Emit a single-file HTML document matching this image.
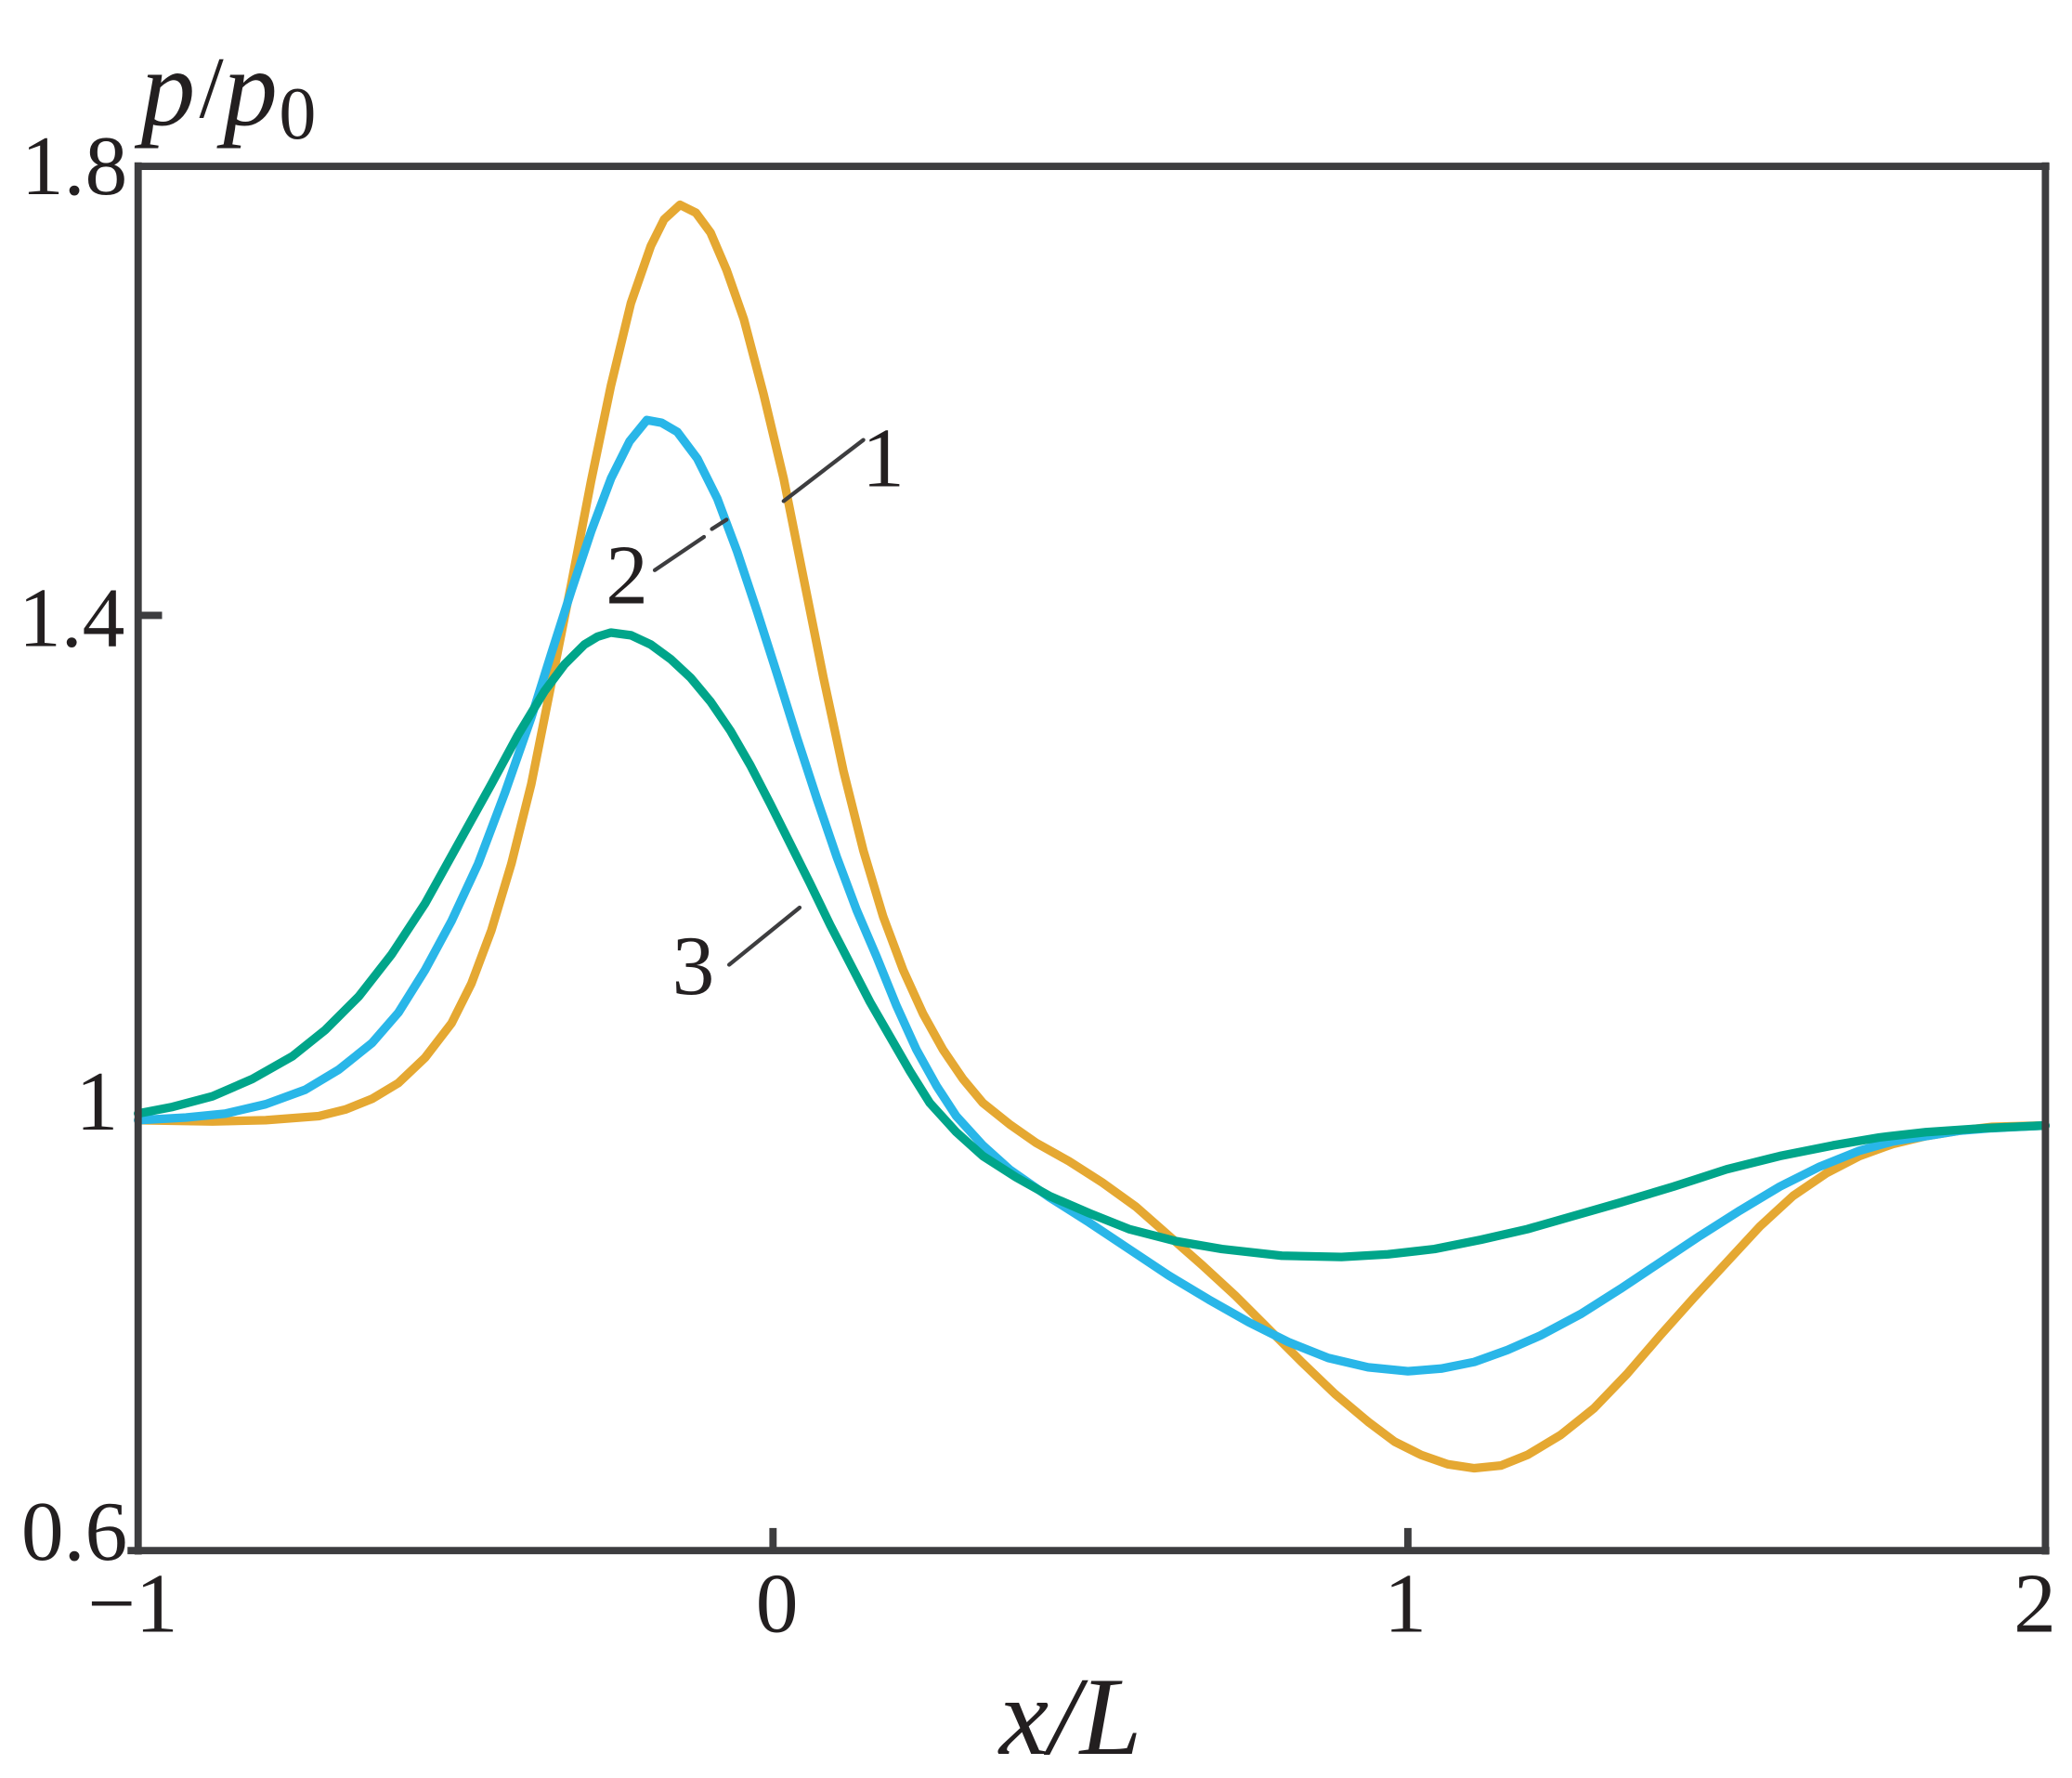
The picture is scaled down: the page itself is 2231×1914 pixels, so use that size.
<!DOCTYPE html>
<html><head><meta charset="utf-8"><style>
html,body{margin:0;padding:0;background:#fff;}
svg{display:block;}
text{font-family:"Liberation Serif",serif;fill:#231f20;}
</style></head><body>
<svg width="2231" height="1914" viewBox="0 0 1560 1338" xmlns="http://www.w3.org/2000/svg">
<rect width="1560" height="1338" fill="#fff"/>
<g fill="none" stroke-linejoin="round" stroke-linecap="round" stroke-width="6.5">
<polyline stroke="#E5A832" points="104,843 160,844 200,843 240,840 260,835 280,827 300,815 320,796 340,770 355,740 370,700 385,650 400,590 415,515 430,440 445,362 460,290 475,228 490,185 500,165 512,154 524,160 535,175 547,203 560,240 575,297 590,360 605,435 620,510 635,580 650,640 665,690 680,730 695,763 710,790 725,812 740,830 760,846 780,860 805,874 830,890 855,908 880,930 905,952 930,975 955,1000 980,1025 1005,1049 1030,1070 1050,1085 1070,1095 1090,1102 1110,1105 1130,1103 1150,1095 1175,1080 1200,1060 1225,1034 1250,1005 1275,977 1300,950 1325,923 1350,900 1375,883 1400,870 1425,861 1450,855 1475,851 1500,848 1540,847"/>
<polyline stroke="#29B6E8" points="104,843 140,841 170,838 200,831 230,820 255,805 280,785 300,762 320,730 340,693 360,650 380,597 400,540 415,492 430,445 445,400 460,360 474,332 487,316 498,318 510,325 525,345 540,375 555,415 570,460 585,507 600,555 615,601 630,645 645,685 660,720 675,757 690,790 705,817 720,840 740,862 760,880 790,901 820,920 850,940 880,960 910,978 940,995 970,1010 1000,1022 1030,1029 1060,1032 1085,1030 1110,1025 1135,1016 1160,1005 1190,989 1220,970 1250,950 1280,930 1310,911 1340,893 1370,878 1400,866 1425,859 1450,855 1475,851 1500,849 1540,847"/>
<polyline stroke="#00A58A" points="104,838 130,833 160,825 190,812 220,795 245,775 270,750 295,718 320,680 345,635 370,590 390,553 410,520 425,500 440,485 450,479 460,476 475,478 490,485 505,496 520,510 535,528 550,550 565,576 580,605 595,635 610,665 625,696 640,725 655,754 670,780 685,806 700,830 720,852 740,870 765,886 790,900 820,913 850,925 885,934 920,940 965,945 1010,946 1045,944 1080,940 1115,933 1150,925 1185,915 1220,905 1260,893 1300,880 1340,870 1380,862 1415,856 1450,852 1495,849 1540,847"/>
</g>
<g stroke="#3d3d3f" stroke-width="3" stroke-linecap="round">
<line x1="590" y1="377" x2="650" y2="331"/>
<line x1="493" y1="429" x2="530" y2="404"/><line x1="536" y1="398" x2="547" y2="391"/>
<line x1="549" y1="726" x2="602" y2="683"/>
</g>
<g stroke="#3d3d3f" stroke-width="5.5" fill="none">
<line x1="104" y1="122" x2="104" y2="1170"/>
<line x1="104" y1="125" x2="1543" y2="125"/>
<line x1="1540" y1="122" x2="1540" y2="1170"/>
<line x1="96" y1="1167" x2="1543" y2="1167"/>
<line x1="104" y1="463" x2="122" y2="463"/>
<line x1="582" y1="1167" x2="582" y2="1150"/>
<line x1="1060" y1="1167" x2="1060" y2="1150"/>
</g>
<g font-size="64">
<text x="96" y="146" text-anchor="end">1.8</text>
<text x="94" y="486" text-anchor="end">1.4</text>
<text x="89" y="850" text-anchor="end">1</text>
<text x="96" y="1174" text-anchor="end">0.6</text>
<text x="100" y="1228" text-anchor="middle">−1</text>
<text x="585" y="1228" text-anchor="middle">0</text>
<text x="1058" y="1228" text-anchor="middle">1</text>
<text x="1532" y="1228" text-anchor="middle">2</text>
<text x="665" y="366" text-anchor="middle">1</text>
<text x="472" y="454" text-anchor="middle">2</text>
<text x="522" y="748" text-anchor="middle">3</text>
</g>
<text x="106" y="94" font-size="82" font-style="italic">p</text>
<text x="150" y="88" font-size="66">/</text>
<text x="168" y="94" font-size="82" font-style="italic">p</text>
<text x="210" y="104" font-size="56">0</text>
<text x="806" y="1320" font-size="84" font-style="italic" text-anchor="middle">x/L</text>
</svg>
</body></html>
